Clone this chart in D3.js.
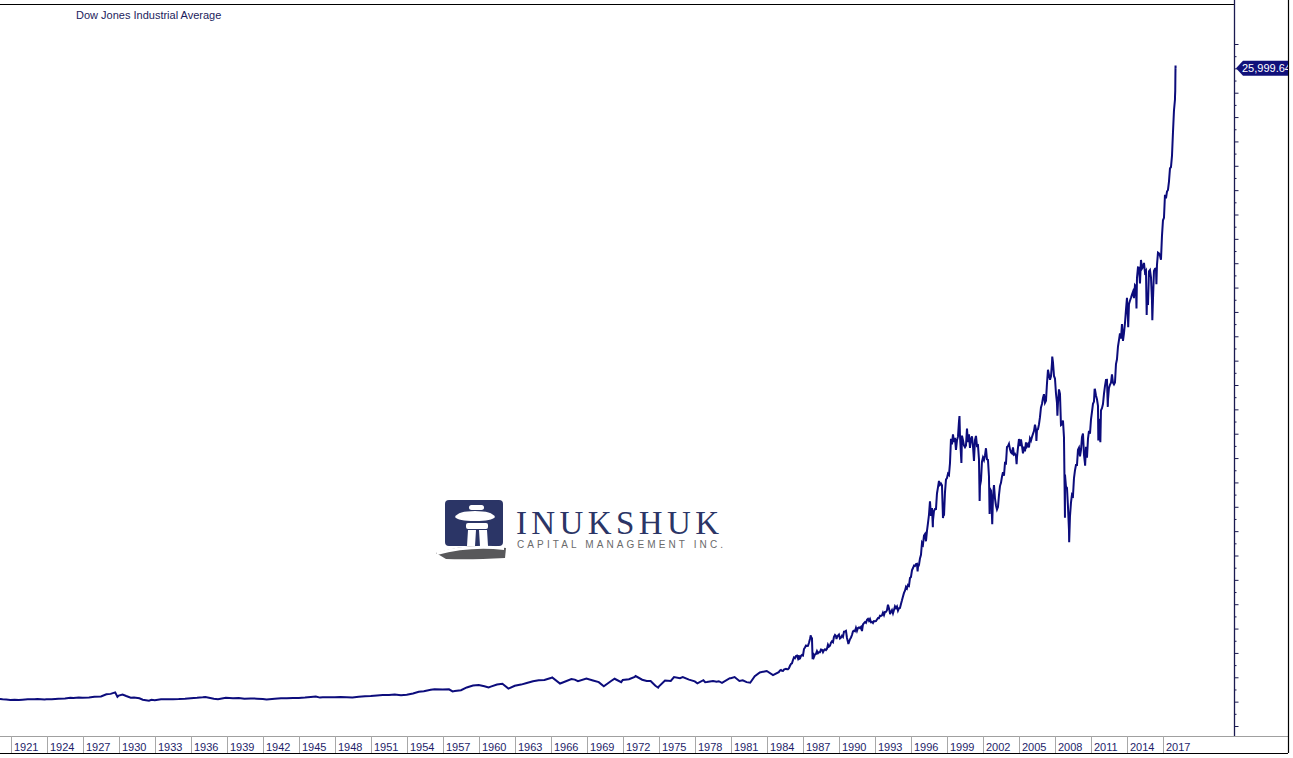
<!DOCTYPE html>
<html>
<head>
<meta charset="utf-8">
<script src="https://cdn.jsdelivr.net/npm/d3@7/dist/d3.min.js"></script>
<style>
  html, body { margin: 0; padding: 0; background: #ffffff; }
  svg { display: block; font-family: "Liberation Sans", Arial, sans-serif; }
</style>
</head>
<body>
<svg id="chart" width="1293" height="758"></svg>
<script>
// ---------------- DATA ----------------
const chartTitle = "Dow Jones Industrial Average";
const lastValueLabel = "25,999.64";

// Early history (decimal year, index level)
const earlyDates = [
  1920.00,1920.30,1920.60,1920.95,1921.30,1921.65,1921.95,1922.40,1922.95,1923.20,1923.80,1923.95,
  1924.40,1924.95,1925.50,1925.95,1926.20,1926.65,1926.95,1927.50,1927.95,1928.50,1928.95,1929.30,
  1929.68,1929.87,1929.98,1930.30,1930.60,1930.98,1931.25,1931.70,1931.98,1932.50,1932.70,1932.98,
  1933.50,1933.98,1934.50,1934.98,1935.50,1935.98,1936.50,1936.98,1937.20,1937.90,1938.25,1938.90,
  1939.50,1939.98,1940.45,1940.98,1941.50,1941.98,1942.30,1942.98,1943.50,1943.98,1944.50,1944.98,
  1945.50,1945.98,1946.40,1946.75,1946.98,1947.50,1947.98,1948.45,1948.98,1949.45,1949.98,1950.50,
  1950.98,1951.50,1951.98,1952.50,1952.98,1953.50,1953.98,1954.50,1954.98,1955.40,1955.98,1956.30,
  1956.98,1957.50,1957.80,1957.98,1958.50,1958.98,1959.50,1959.98,1960.45,1960.80,1960.98,1961.50,
  1961.95,1962.45,1962.98,1963.50,1963.98,1964.50,1964.98,1965.45,1965.98,1966.10,1966.75,1966.98,
  1967.70,1967.98,1968.25,1968.95,1969.50,1969.98,1970.40,1970.98,1971.30,1971.85,1971.98,1972.50,
  1972.98,1973.05,1973.60,1973.98,1974.30,1974.70,1974.93,1974.98,1975.50,1975.98,1976.25,1976.75,
  1976.98,1977.50,1977.98,1978.20,1978.70,1978.85,1978.98,1979.50,1979.80,1979.98,1980.25,1980.90,
  1980.98,1981.30,1981.70,1981.98,1982.30,1982.60,1982.98,1983.40,1983.90,1983.98,1984.50,1984.98
];
const earlyValues = [
  108,96,88,72,76,67,81,95,99,105,88,95,
  98,120,130,157,145,166,157,175,200,211,300,319,
  381,199,248,294,233,165,172,138,78,42,73,60,
  98,99,98,104,118,144,159,180,194,121,99,155,
  138,150,116,131,123,111,93,119,139,136,147,152,
  166,193,212,166,177,183,181,189,177,168,200,224,
  235,257,269,272,292,267,281,335,404,425,488,512,
  500,505,420,436,470,584,660,679,630,580,616,705,
  731,536,652,700,763,835,874,890,969,995,744,786,
  926,905,840,944,870,800,631,839,940,800,890,920,
  1020,1051,900,851,850,650,578,616,870,852,1010,960,
  1004,905,831,750,880,800,805,845,820,839,770,960,
  964,1010,850,875,800,777,1046,1200,1250,1258,1090,1211
];

// Monthly closes, Jan 1985 .. Dec 2017
const monthlyStartYear = 1985;
const monthlyCloses = [
  1277,1300,1266,1258,1315,1335,1347,1334,1329,1374,1472,1547,
  1571,1709,1819,1784,1877,1893,1775,1898,1768,1878,1914,1896,
  2158,2224,2305,2286,2292,2419,2572,2663,2596,1994,1834,1939,
  1958,2072,1988,2032,2031,2142,2129,2032,2113,2149,2115,2169,
  2342,2259,2294,2419,2480,2440,2661,2737,2693,2645,2706,2753,
  2591,2627,2707,2657,2877,2881,2905,2614,2453,2442,2560,2634,
  2736,2882,2914,2888,3028,2907,3025,3044,3017,3069,2895,3169,
  3224,3267,3236,3359,3397,3319,3394,3257,3272,3226,3306,3301,
  3310,3371,3435,3428,3527,3516,3540,3651,3555,3681,3684,3754,
  3978,3832,3636,3682,3758,3625,3765,3913,3843,3908,3739,3834,
  3844,4011,4158,4321,4465,4556,4709,4650,4789,4756,5075,5117,
  5395,5486,5588,5569,5643,5655,5529,5616,5882,6029,6522,6448,
  6813,6878,6584,7009,7331,7673,8223,7622,7945,7442,7823,7908,
  7907,8546,8800,9063,8900,8952,8883,7539,7843,8592,9117,9181,
  9359,9307,9786,10789,10560,10971,10655,10829,10337,10730,10878,11497,
  10941,10128,10922,10734,10522,10448,10522,11215,10651,10971,10415,10787,
  10887,10495,9879,10735,10912,10502,10523,9950,8848,9075,9852,10022,
  9920,10106,10404,9946,9925,9243,8737,8664,7592,8397,8896,8342,
  8054,7891,7992,8480,8850,8985,9234,9416,9275,9801,9782,10454,
  10488,10584,10358,10226,10188,10435,10140,10174,10080,10027,10428,10783,
  10490,10766,10504,10193,10467,10275,10641,10482,10569,10440,10806,10718,
  10865,10993,11109,11367,11168,11150,11186,11381,11679,12081,12221,12463,
  12622,12269,12354,13063,13628,13409,13212,13358,13896,13930,13372,13265,
  12650,12266,12263,12820,12638,11350,11378,11544,10851,9325,8829,8776,
  8001,7063,7609,8168,8500,8447,9172,9496,9712,9713,10345,10428,
  10067,10325,10857,11009,10137,9774,10466,10015,10788,11118,11006,11578,
  11892,12226,12320,12811,12570,12414,12143,11614,10913,11955,12046,12218,
  12633,12952,13212,13214,12393,12880,13009,13091,13437,13096,13026,13104,
  13861,14054,14579,14840,15116,14910,15500,14810,15130,15546,16086,16577,
  15699,16322,16458,16581,16717,16827,16563,17098,17043,17391,17828,17823,
  17165,18133,17776,17841,18011,17620,17690,16528,16285,17664,17720,17425,
  16466,16517,17685,17774,17787,17930,18432,18401,18308,18142,19124,19763,
  19864,20812,20663,20941,21009,21350,21891,21948,22405,23377,24272,24719
];

// Intra-month extremes and the final January 2018 run
const spikeDates = [
  1986.70,1987.65,1987.80,1989.79,1990.78,1994.25,1996.55,1997.82,1998.75,2000.04,
  2000.20,2001.72,2002.55,2002.77,2004.80,2006.45,2007.77,2008.20,2008.83,2009.18,
  2010.51,2011.30,2011.61,2011.78,2012.40,2014.10,2014.79,2015.64,2016.11,2016.45,
  2018.00,2018.02,2018.035,2018.045,2018.05
];
const spikeValues = [
  1758,2722,1739,2569,2365,3593,5346,7161,7632,11723,
  9796,8236,7702,7286,9750,10706,14165,11740,7552,6547,
  9686,12810,10720,10655,12101,15373,16141,15871,15660,17140,
  24824,25075,25803,26115,25999.64
];

// Axis tick values
const yearLabels = d3.range(1921, 2018, 3);
const yMajorTicks = d3.range(-1000, 27001, 1000);
const yMinorTicks = d3.range(-500, 27001, 1000);

// ---------------- BUILD SERIES ----------------
const series = [];
earlyDates.forEach((d, i) => series.push({ date: d, value: earlyValues[i] }));
monthlyCloses.forEach((v, i) => series.push({ date: monthlyStartYear + (i + 1) / 12 - 0.002, value: v }));
spikeDates.forEach((d, i) => series.push({ date: d, value: spikeValues[i] }));
series.sort((a, b) => a.date - b.date);

// ---------------- LAYOUT ----------------
const svg = d3.select("#chart");
const W = 1293, H = 758;
const plotRight = 1234, plotTop = 4, plotBottom = 736, frameRight = 1288, frameBottom = 753;
const navy = "#0c0c7c";
const axisColor = "#1a1a50";
const textColor = "#1e1e6a";

const x = d3.scaleLinear().domain([1921 - 11 / 12, 1921 - 11 / 12 + plotRight / 12]).range([0, plotRight]);
const y = d3.scaleLinear().domain([-1000, 27000]).range([726, 44]);

svg.append("rect").attr("width", W).attr("height", H).attr("fill", "#ffffff");

// ---------------- LOGO (watermark) ----------------
const logo = svg.append("g").attr("class", "logo");
logo.append("path")
  .attr("d", "M436,553 Q470,542 506,548 L505,558 Q470,560 446,559 Z")
  .attr("fill", "#58585a");
logo.append("rect").attr("x", 445).attr("y", 500).attr("width", 58).attr("height", 46).attr("rx", 4)
  .attr("fill", "#2b3566");
logo.append("path")
  .attr("d", "M437,552 Q470,543 504,547 L504,550 Q470,546 437,555 Z")
  .attr("fill", "#ffffff");
const fig = logo.append("g").attr("fill", "#ffffff");
fig.append("rect").attr("x", 469).attr("y", 505).attr("width", 15).attr("height", 5).attr("rx", 2.5);
fig.append("path").attr("d", "M455,517 Q458,511 475,511 Q492,511 495,517 Q492,521 475,521 Q458,521 455,517 Z");
fig.append("rect").attr("x", 466).attr("y", 523).attr("width", 22).attr("height", 6).attr("rx", 2);
fig.append("path").attr("d", "M468,530 L476,530 L475,546 L467,546 Z");
fig.append("path").attr("d", "M479,530 L487,530 L488,546 L480,546 Z");
logo.append("text").attr("x", 516).attr("y", 534)
  .style("font-family", "'Liberation Serif', 'DejaVu Serif', serif")
  .style("font-size", "33px").attr("fill", "#2b3566")
  .attr("textLength", 203).attr("lengthAdjust", "spacing")
  .text("INUKSHUK");
logo.append("text").attr("x", 517).attr("y", 548)
  .style("font-size", "10px").attr("fill", "#6a6a6a")
  .attr("textLength", 206).attr("lengthAdjust", "spacing")
  .text("CAPITAL MANAGEMENT INC.");

// ---------------- LINE ----------------
svg.append("defs").append("clipPath").attr("id", "plotClip")
  .append("rect").attr("x", 0).attr("y", plotTop).attr("width", plotRight).attr("height", plotBottom - plotTop);

const line = d3.line().x(d => x(d.date)).y(d => y(d.value));
svg.append("path")
  .datum(series)
  .attr("clip-path", "url(#plotClip)")
  .attr("fill", "none")
  .attr("stroke", navy)
  .attr("stroke-width", 2)
  .attr("stroke-linejoin", "miter")
  .attr("d", line);

// ---------------- FRAME ----------------
svg.append("line").attr("x1", 0).attr("x2", plotRight).attr("y1", plotTop + 0.5).attr("y2", plotTop + 0.5)
  .attr("stroke", "#000000").attr("stroke-width", 1.2);
svg.append("line").attr("x1", 0).attr("x2", frameRight).attr("y1", plotBottom + 0.5).attr("y2", plotBottom + 0.5)
  .attr("stroke", "#a0a0a0").attr("stroke-width", 1);
svg.append("line").attr("x1", 0).attr("x2", frameRight).attr("y1", frameBottom + 0.5).attr("y2", frameBottom + 0.5)
  .attr("stroke", "#000000").attr("stroke-width", 1.2);
svg.append("line").attr("x1", frameRight + 0.5).attr("x2", frameRight + 0.5).attr("y1", 0).attr("y2", frameBottom)
  .attr("stroke", "#000000").attr("stroke-width", 1.2);

// ---------------- RIGHT AXIS ----------------
const yAxisMajor = d3.axisRight(y).tickValues(yMajorTicks).tickSize(4).tickSizeOuter(0).tickFormat("");
const gY = svg.append("g").attr("transform", `translate(${plotRight + 0.5},0)`).call(yAxisMajor);
gY.select(".domain").remove();
gY.selectAll(".tick line").attr("stroke", axisColor);
const yAxisMinor = d3.axisRight(y).tickValues(yMinorTicks).tickSize(2).tickSizeOuter(0).tickFormat("");
const gYm = svg.append("g").attr("transform", `translate(${plotRight + 0.5},0)`).call(yAxisMinor);
gYm.select(".domain").remove();
gYm.selectAll(".tick line").attr("stroke", axisColor);
svg.append("line").attr("x1", plotRight + 0.5).attr("x2", plotRight + 0.5).attr("y1", 0).attr("y2", plotBottom)
  .attr("stroke", axisColor).attr("stroke-width", 1.3);

// last value flag
const lastVal = spikeValues[spikeValues.length - 1];
svg.append("defs").append("clipPath").attr("id", "flagClip")
  .append("rect").attr("x", plotRight).attr("y", 0).attr("width", frameRight - plotRight).attr("height", H);
const flag = svg.append("g").attr("clip-path", "url(#flagClip)");
const fy = y(lastVal);
flag.append("path")
  .attr("d", `M${plotRight + 2},${fy} L${plotRight + 9},${fy - 7.5} L${plotRight + 70},${fy - 7.5} L${plotRight + 70},${fy + 7.5} L${plotRight + 9},${fy + 7.5} Z`)
  .attr("fill", "#10107a");
flag.append("text").attr("x", plotRight + 8).attr("y", fy + 4)
  .style("font-size", "11px").attr("fill", "#ffffff").text(lastValueLabel);

// ---------------- BOTTOM AXIS ----------------
const xAxis = d3.axisBottom(x).tickValues(yearLabels).tickSize(frameBottom - plotBottom).tickSizeOuter(0)
  .tickFormat(d3.format("d"));
const gX = svg.append("g").attr("transform", `translate(0,${plotBottom})`).call(xAxis);
gX.select(".domain").remove();
gX.selectAll(".tick line").attr("stroke", "#a8a8a8");
gX.selectAll(".tick text")
  .attr("text-anchor", "start").attr("x", 2.5).attr("y", 15).attr("dy", null)
  .style("font-size", "11px").style("font-family", "'Liberation Sans', Arial, sans-serif")
  .attr("fill", textColor);

// ---------------- TITLE ----------------
svg.append("text").attr("x", 76).attr("y", 19)
  .style("font-size", "11px").attr("fill", "#1c1c5c").text(chartTitle);
</script>
</body>
</html>
